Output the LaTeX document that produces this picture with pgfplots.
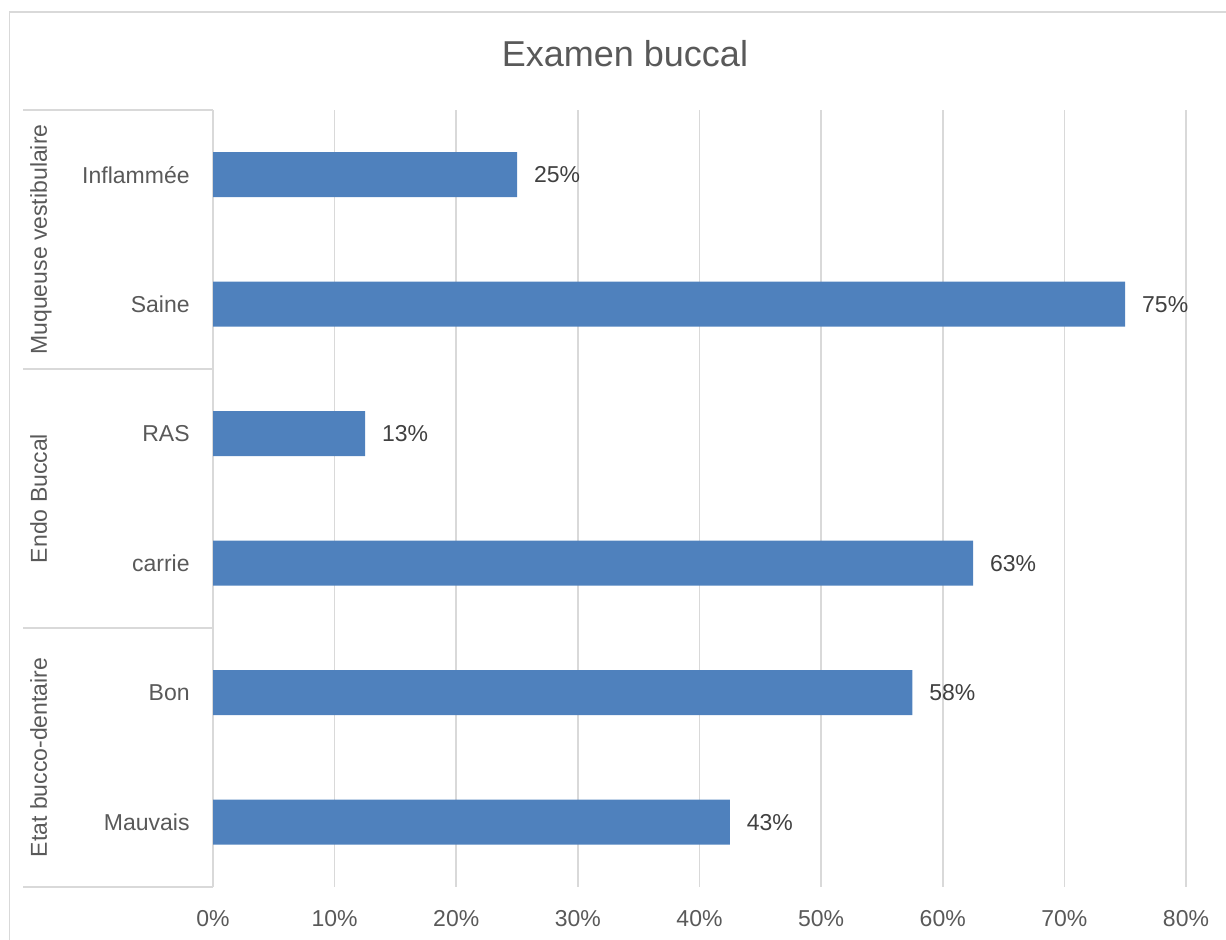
\documentclass[border=0pt]{standalone}
\usepackage{fontspec}
\setmainfont{Liberation Sans}
\usepackage{pgfplots}
\pgfplotsset{compat=1.18}
\usepackage{pgfplotstable}
\definecolor{barblue}{HTML}{4F81BD}
\definecolor{gridgray}{HTML}{D9D9D9}
\definecolor{txtgray}{HTML}{595959}
\definecolor{lblgray}{HTML}{404040}

\pgfplotstableread{
y val lab
5 25 25
4 75 75
3 12.5 13
2 62.5 63
1 57.5 58
0 42.5 43
}\data

\begin{document}
\begin{tikzpicture}
\path[use as bounding box] (0,0) rectangle (613pt,470pt);
% outer chart border (left and top visible)
\draw[gridgray, line width=0.75pt] (4.75pt,0) -- (4.75pt,464pt) -- (613pt,464pt);
% title
\node[anchor=base, text=txtgray, font=\fontsize{18}{21}\selectfont] at (312.5pt,436.5pt) {Examen buccal};
\begin{axis}[
 at={(106.5pt,26.5pt)}, anchor=south west,
 scale only axis, width=486.5pt, height=388.5pt,
 xbar, bar width=22.5pt,
 xmin=0, xmax=80, ymin=-0.5, ymax=5.5,
 enlargelimits=false,
 xtick={0,10,...,80},
 xticklabels={0\%,10\%,20\%,30\%,40\%,50\%,60\%,70\%,80\%},
 ytick={0,...,5},
 yticklabels={Mauvais,Bon,carrie,RAS,Saine,Inflammée},
 xmajorgrids, grid style={gridgray, line width=0.8pt},
 axis line style={draw=none}, tick style={draw=none}, major tick length=0pt,
 ticklabel style={font=\fontsize{11.5}{13}\selectfont, text=txtgray, inner sep=0pt},
 xticklabel style={yshift=-11.5pt},
 yticklabel style={xshift=-11.5pt},
 clip=false,
 nodes near coords={\pgfplotspointmeta\%},
 point meta=explicit symbolic,
 every node near coord/.append style={anchor=west, inner sep=0pt, xshift=8.3pt,
   font=\fontsize{11.5}{13}\selectfont, text=lblgray},
]
\addplot[fill=barblue, draw=none] table[x=val, y=y, meta=lab] {\data};
\end{axis}
% group separators
\begin{scope}[gridgray, line width=0.8pt]
\draw (11.5pt,415pt) -- (106.5pt,415pt);
\draw (11.5pt,285.5pt) -- (106.5pt,285.5pt);
\draw (11.5pt,156pt) -- (106.5pt,156pt);
\draw (11.5pt,26.5pt) -- (106.5pt,26.5pt);
\end{scope}
% group labels
\begin{scope}[every node/.style={anchor=base, rotate=90, text=txtgray, font=\fontsize{11.5}{13}\selectfont}]
\node at (23.5pt,350.25pt) {Muqueuse vestibulaire};
\node at (23.5pt,220.75pt) {Endo Buccal};
\node at (23.5pt,91.25pt) {Etat bucco-dentaire};
\end{scope}
\end{tikzpicture}
\end{document}
